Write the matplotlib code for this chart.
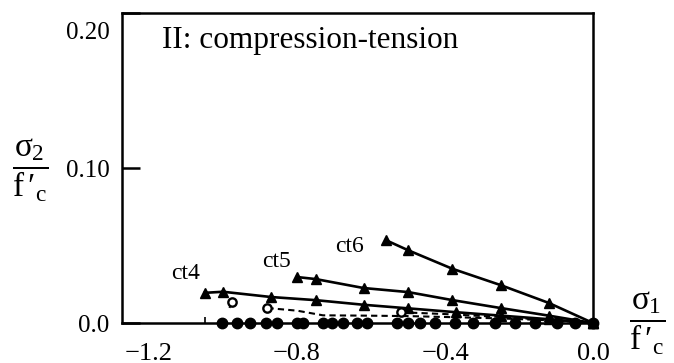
"""Biaxial strength envelope, region II (compression-tension), normalised by f'c."""

import matplotlib

matplotlib.use("Agg")

import matplotlib.pyplot as plt  # noqa: E402
import matplotlib.transforms as mtransforms  # noqa: E402

plt.rcParams["font.family"] = ["Liberation Serif", "DejaVu Serif"]
plt.rcParams["mathtext.fontset"] = "custom"
plt.rcParams["mathtext.rm"] = "Liberation Serif"
plt.rcParams["mathtext.it"] = "Liberation Serif"

# triangle series: compressive stress ratio sigma1/f'c vs tensile sigma2/f'c
ct4_s1 = [-1.05, -1.00, -0.87, -0.75, -0.62, -0.50, -0.37, -0.25, -0.12, 0.0]
ct4_s2 = [0.0195, 0.0202, 0.0168, 0.0148, 0.0118, 0.0095, 0.0070, 0.0048, 0.0025, 0.0]

ct5_s1 = [-0.80, -0.75, -0.62, -0.50, -0.38, -0.25, -0.12, 0.0]
ct5_s2 = [0.0297, 0.0284, 0.0226, 0.0200, 0.0148, 0.0097, 0.0048, 0.0]

ct6_s1 = [-0.56, -0.50, -0.38, -0.25, -0.12, 0.0]
ct6_s2 = [0.0535, 0.0470, 0.0350, 0.0245, 0.0130, 0.0]

# open-circle (dashed) series
open_a_s1 = [-0.976, -0.985]
open_a_s2 = [0.0135, 0.0085]
open_b_s1 = [-0.88, -0.80, -0.73, -0.62, -0.50, -0.38, -0.25, -0.12, 0.0]
open_b_s2 = [0.0097, 0.0080, 0.0050, 0.0048, 0.0045, 0.0038, 0.0030, 0.0018, 0.0]
open_c_s1 = [-0.52, -0.40, -0.27, -0.13, 0.0]
open_c_s2 = [0.0070, 0.0058, 0.0042, 0.0022, 0.0]

# filled circles lying on the sigma2 = 0 axis
zero_s1 = [-1.003, -0.962, -0.927, -0.884, -0.854, -0.800, -0.784, -0.730, -0.705,
           -0.676, -0.638, -0.611, -0.530, -0.500, -0.468, -0.427, -0.373, -0.324,
           -0.265, -0.211, -0.157, -0.097, -0.049, 0.0]
zero_s2 = [0.0] * len(zero_s1)

curve_labels = ["ct4", "ct5", "ct6"]
label_pos = [(-1.10, 0.032), (-0.855, 0.040), (-0.657, 0.0495)]

x_ticks = [-1.2, -0.8, -0.4, 0.0]
x_ticklabels = ["\u22121.2", "\u22120.8", "\u22120.4", "0.0"]
y_ticks = [0.0, 0.10, 0.20]
y_ticklabels = ["0.0", "0.10", "0.20"]

fig = plt.figure(figsize=(6.74, 3.63), dpi=100)
ax = fig.add_axes([0.181, 0.110, 0.699, 0.854])

ax.plot(zero_s1, zero_s2, "o", color="black", markersize=7.5, zorder=4, clip_on=False)
for s1, s2 in ((ct4_s1, ct4_s2), (ct5_s1, ct5_s2), (ct6_s1, ct6_s2)):
    ax.plot(s1, s2, "-^", color="black", linewidth=1.9, markersize=7, zorder=3, clip_on=False)
for s1, s2 in ((open_a_s1, open_a_s2), (open_b_s1, open_b_s2), (open_c_s1, open_c_s2)):
    ax.plot(s1, s2, "--", color="black", linewidth=1.5, dashes=(3, 2), zorder=3)
    ax.plot(s1[:1], s2[:1], "o", color="black", markerfacecolor="white",
            markeredgewidth=1.7, markersize=6, zorder=5)

for text, (lx, ly) in zip(curve_labels, label_pos):
    ax.text(lx, ly, text, fontsize=17, ha="center", va="center")

ax.text(-1.165, 0.182, "II: compression-tension", fontsize=22.5, ha="left", va="center")

ax.set_xlim(-1.273, 0.0)
ax.set_ylim(0.0, 0.20)
ax.set_xticks(x_ticks)
ax.set_xticklabels(x_ticklabels)
ax.set_yticks(y_ticks)
ax.set_yticklabels(y_ticklabels)
ax.set_xticks([ct4_s1[0]], minor=True)
ax.tick_params(axis="x", which="major", length=0, pad=14, labelsize=19)
ax.tick_params(axis="x", which="minor", direction="in", length=4, width=1.2)
ax.tick_params(axis="y", which="major", direction="in", length=13, width=1.8, pad=9,
               labelsize=18)
for spine in ax.spines.values():
    spine.set_linewidth(1.8)

# the top label sits a little below its tick
top_label = ax.get_yticklabels()[-1]
top_label.set_transform(top_label.get_transform()
                        + mtransforms.ScaledTranslation(0, -17 / 100, fig.dpi_scale_trans))

fig.text(0.045, 0.53, "$\\dfrac{\u03c3_2}{\\mathrm{f\\,\u2032_c}}$", fontsize=24,
         ha="center", va="center")
fig.text(0.96, 0.11, "$\\dfrac{\u03c3_1}{\\mathrm{f\\,\u2032_c}}$", fontsize=24,
         ha="center", va="center")

fig.savefig("out.png", dpi=100)
